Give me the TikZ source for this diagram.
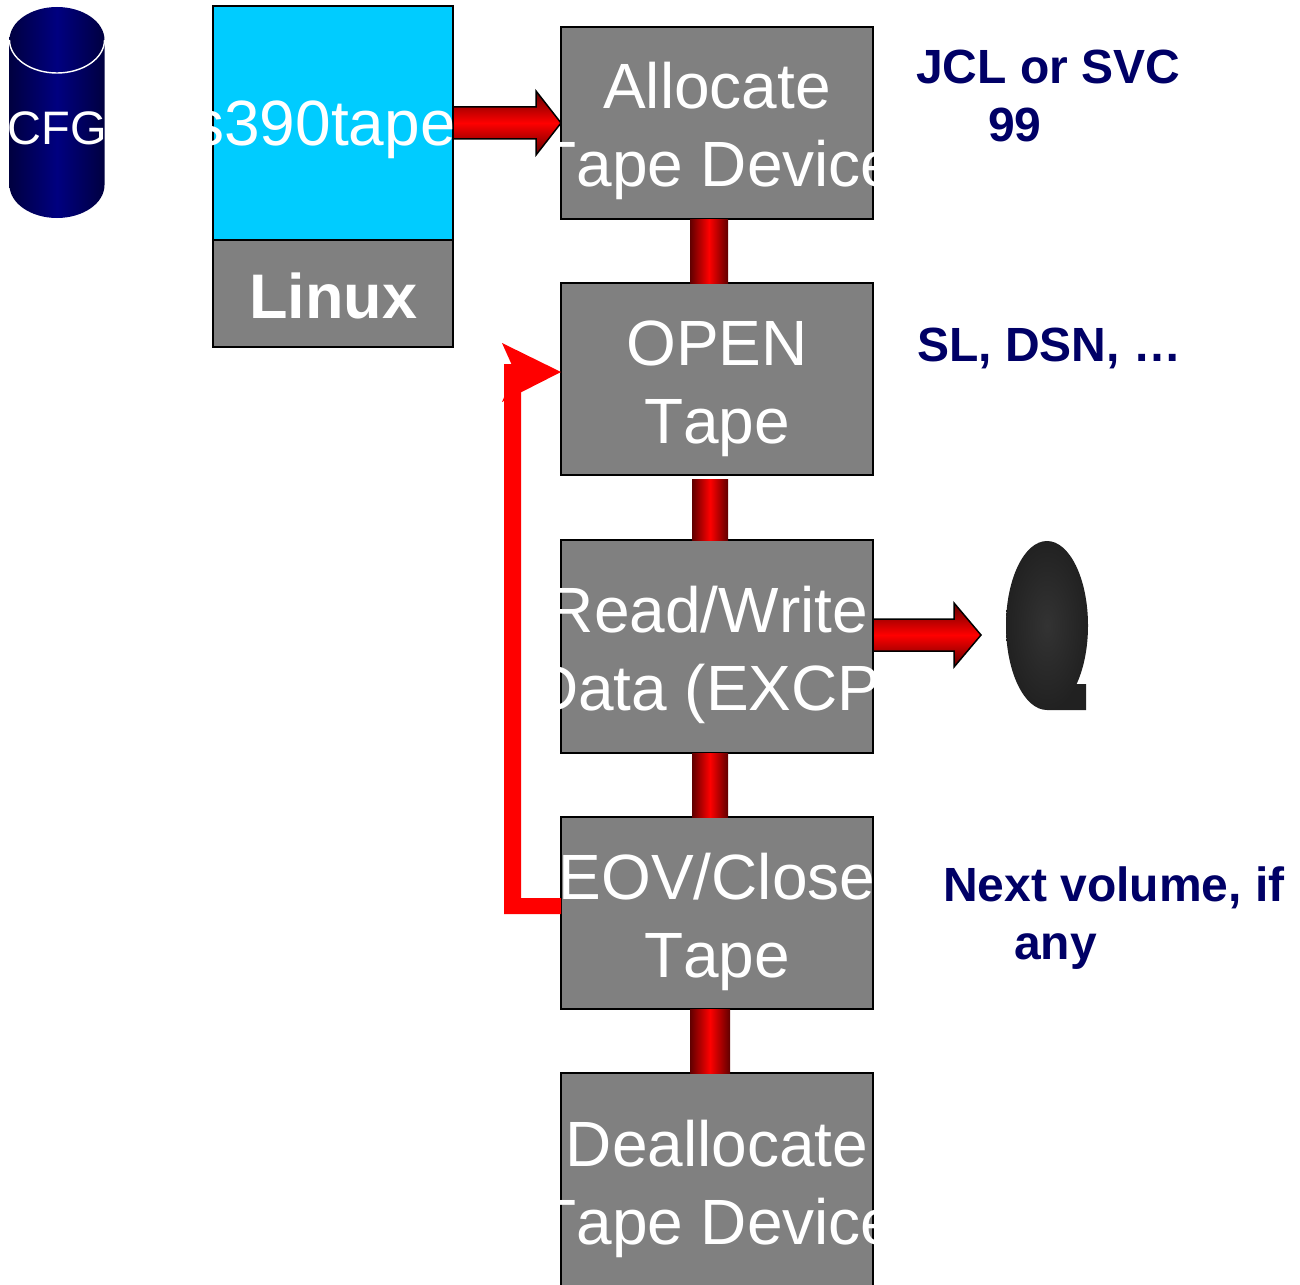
\documentclass[tikz,border=0pt]{standalone}
\usepackage{fontspec}
\setmainfont[Kerning=Off]{Liberation Sans}
\usetikzlibrary{calc}
\definecolor{boxgray}{HTML}{808080}
\definecolor{sky}{HTML}{00CCFF}
\definecolor{labelnavy}{HTML}{000066}
\definecolor{darkred}{HTML}{600000}
\definecolor{cylnavy}{HTML}{000080}
\definecolor{cyldark}{HTML}{000040}
\newcommand{\twolines}[2]{\parbox{312pt}{\centering\rule{0pt}{64pt}\makebox[0pt]{#1}\\\rule[-14pt]{0pt}{14pt}\makebox[0pt]{#2}}}
\tikzset{
  stepbox/.style={draw=black,line width=2pt,outer sep=0pt,fill=boxgray,text=white,inner sep=0pt,minimum width=312pt,anchor=north west,font=\fontsize{64}{78}\selectfont},
  stackbox/.style={draw=black,line width=2pt,outer sep=0pt,text=white,inner sep=0pt,minimum width=240pt,anchor=north west},
  note/.style={text=labelnavy,inner sep=0pt,anchor=north west,align=left,font=\fontsize{48}{58}\selectfont\bfseries},
  link/.style={left color=darkred,right color=darkred,middle color=red,draw=none},
  blockarrow/.style={draw=black,line width=1.5pt,line join=miter,top color=darkred,bottom color=darkred,middle color=red},
}
\begin{document}
\begin{tikzpicture}[x=1pt,y=-1pt]
\useasboundingbox (0,0) rectangle (1300,1284);
% cylinder
\path[left color=cyldark,right color=cyldark,middle color=cylnavy]
  (9.5,40) -- (9.5,185) arc[start angle=180,end angle=360,x radius=47.5,y radius=-33] -- (104.5,40)
  arc[start angle=0,end angle=180,x radius=47.5,y radius=-33] -- cycle;
\draw[white,line width=1.4pt] (9.5,40) arc[start angle=180,end angle=360,x radius=47.5,y radius=-33];
\node[text=white,inner sep=0pt,font=\fontsize{47}{60}\selectfont] (cfg) at (57,128) {CFG};
% stack
\node[stackbox,fill=sky,minimum height=234pt,font=\fontsize{64}{70}\selectfont] (tape) at (213,6) {\rule{0pt}{46pt}\smash{\makebox[0pt]{s390tape\hspace*{18pt}}}};
\node[stackbox,fill=boxgray,minimum height=107pt,font=\fontsize{63}{70}\selectfont\bfseries] (linux) at (213,240) {\rule{0pt}{49pt}\smash{Linux}};
% steps
\node[stepbox,minimum height=192pt] (alloc) at (561,27) {\twolines{Allocate}{Tape Device}};
\node[stepbox,minimum height=192pt] (open) at (561,283) {\twolines{OPEN}{Tape}};
\node[stepbox,minimum height=213pt] (rw) at (561,540) {\twolines{Read/Write\hspace*{18pt}}{Data (EXCP)}};
\node[stepbox,minimum height=192pt] (eov) at (561,817) {\twolines{EOV/Close}{Tape}};
\node[stepbox,minimum height=214pt] (dealloc) at (561,1073) {\twolines{Deallocate}{Tape Device}};
% links
\path[link] ($(alloc.south)+(-27,0)$) rectangle ($(open.north)+(11,0)$);
\path[link] ($(open.south)+(-25,4)$) rectangle ($(rw.north)+(11,0)$);
\path[link] ($(rw.south)+(-25,0)$) rectangle ($(eov.north)+(11,0)$);
\path[link] ($(eov.south)+(-27,0)$) rectangle ($(dealloc.north)+(13,0)$);
% block arrows
\coordinate (a1) at (tape.east);
\coordinate (a1t) at (alloc.west|-a1);
\path[blockarrow] (a1) ++(0,-16) -- ($(a1t)+(-25,-16)$) -- ($(a1t)+(-25,-32)$) -- (a1t) -- ($(a1t)+(-25,32)$) -- ($(a1t)+(-25,16)$) -- ($(a1)+(0,16)$) -- cycle;
\coordinate (a2) at (rw.east|-0,635);
\coordinate (disk) at (981,635);
\path[blockarrow] (a2) ++(0,-16) -- ($(disk)+(-27,-16)$) -- ($(disk)+(-27,-32)$) -- (disk) -- ($(disk)+(-27,32)$) -- ($(disk)+(-27,16)$) -- ($(a2)+(0,16)$) -- cycle;
% disk shape
\path[inner color=black!80,outer color=black!87]
  (1047,625.5) ellipse[x radius=41,y radius=84.5]
  (1047,710) -- (1047,684) -- (1086,684) -- (1086,710) -- cycle;
% loop back
\coordinate (loopa) at (eov.west|-0,906);
\coordinate (loopb) at (open.west|-0,372);
\fill[red] ($(loopa)+(0,-8)$) -- (521,898) -- (521,364) -- (504,364) -- (504,914) -- ($(loopa)+(0,8)$) -- cycle;
\fill[red] (loopb) -- (502,343) -- (515,372) -- (502,402) -- cycle;
% notes
\node[note] (n1) at (916,50) {JCL or SVC\\\hspace*{72pt}99};
\node[note] (n2) at (917,328) {SL, DSN, …};
\node[note] (n3) at (943,867) {Next volume, if\\\hspace*{71pt}any};
\end{tikzpicture}
\end{document}
